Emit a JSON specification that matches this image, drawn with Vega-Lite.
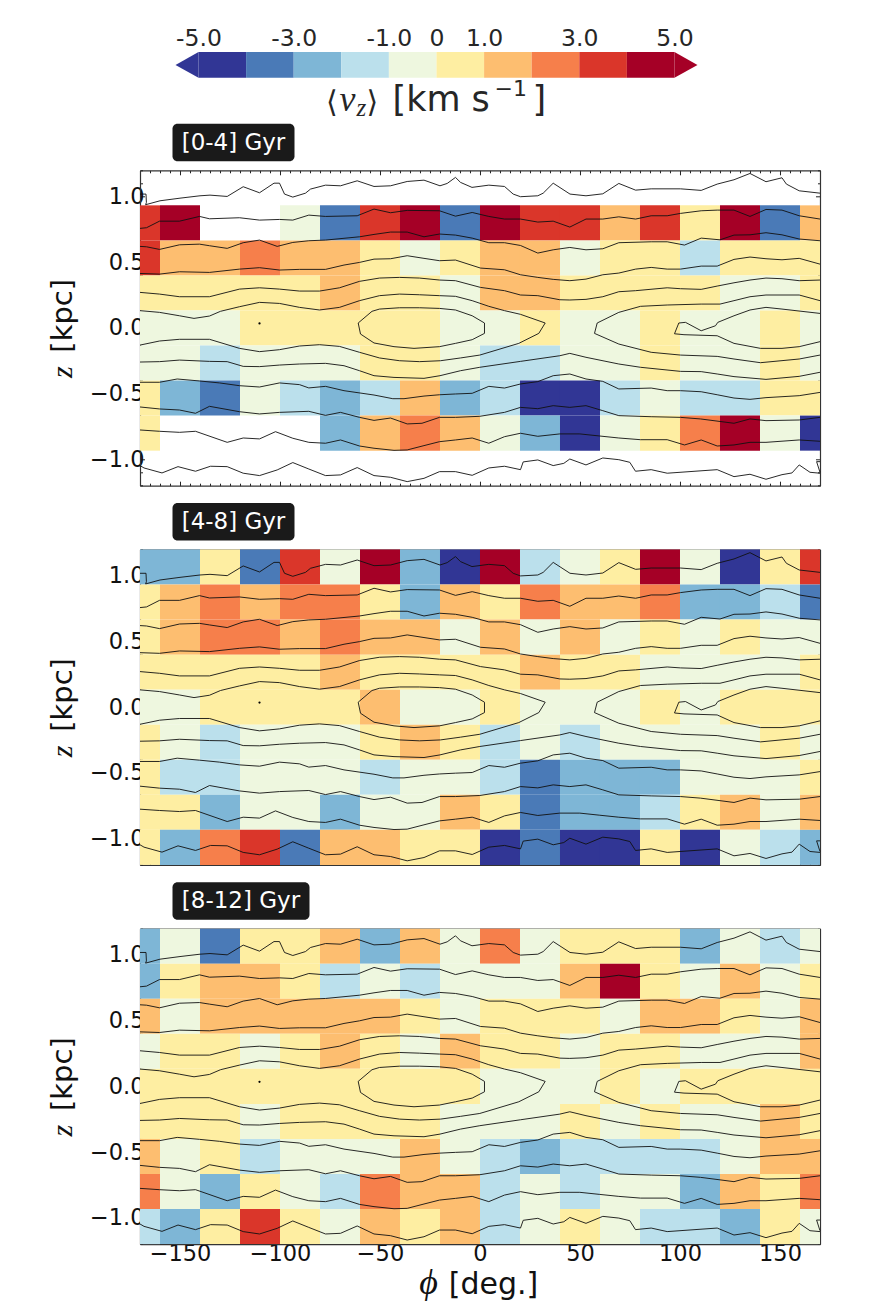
{"$schema":"https://vega.github.io/schema/vega-lite/v6.json","background":"white","padding":{"left":47,"top":26.1,"right":5,"bottom":0},"bounds":"flush","spacing":63.2,
"config":{"font":"DejaVu Sans","view":{"stroke":null},"axis":{"grid":false,"title":null,"labelFont":"DejaVu Sans","labelFontSize":22.5,"labelColor":"#111","domainColor":"#333","domainWidth":1.2,"tickColor":"#222","tickWidth":1,"zindex":1}},
"datasets":{
"bar":[{"lo":-5,"hi":-4,"vz":-4.5},{"lo":-4,"hi":-3,"vz":-3.5},{"lo":-3,"hi":-2,"vz":-2.5},{"lo":-2,"hi":-1,"vz":-1.5},{"lo":-1,"hi":0,"vz":-0.5},{"lo":0,"hi":1,"vz":0.5},{"lo":1,"hi":2,"vz":1.5},{"lo":2,"hi":3,"vz":2.5},{"lo":3,"hi":4,"vz":3.5},{"lo":4,"hi":5,"vz":4.5}],
"p1":[
{"phi":-170,"z":0.8,"vz":3.5},{"phi":-150,"z":0.8,"vz":4.5},{"phi":-90,"z":0.8,"vz":-0.5},{"phi":-70,"z":0.8,"vz":-3.5},{"phi":-50,"z":0.8,"vz":3.5},{"phi":-30,"z":0.8,"vz":4.5},{"phi":-10,"z":0.8,"vz":-3.5},{"phi":10,"z":0.8,"vz":4.5},{"phi":30,"z":0.8,"vz":3.5},{"phi":50,"z":0.8,"vz":3.5},{"phi":70,"z":0.8,"vz":1.5},{"phi":90,"z":0.8,"vz":3.5},{"phi":110,"z":0.8,"vz":0.5},{"phi":130,"z":0.8,"vz":4.5},{"phi":150,"z":0.8,"vz":-3.5},{"phi":170,"z":0.8,"vz":1.5},
{"phi":-170,"z":0.5333,"vz":3.5},{"phi":-150,"z":0.5333,"vz":1.5},{"phi":-130,"z":0.5333,"vz":1.5},{"phi":-110,"z":0.5333,"vz":2.5},{"phi":-90,"z":0.5333,"vz":1.5},{"phi":-70,"z":0.5333,"vz":1.5},{"phi":-50,"z":0.5333,"vz":0.5},{"phi":-30,"z":0.5333,"vz":-0.5},{"phi":-10,"z":0.5333,"vz":0.5},{"phi":10,"z":0.5333,"vz":1.5},{"phi":30,"z":0.5333,"vz":1.5},{"phi":50,"z":0.5333,"vz":-0.5},{"phi":70,"z":0.5333,"vz":0.5},{"phi":90,"z":0.5333,"vz":0.5},{"phi":110,"z":0.5333,"vz":-1.5},{"phi":130,"z":0.5333,"vz":0.5},{"phi":150,"z":0.5333,"vz":0.5},{"phi":170,"z":0.5333,"vz":0.5},
{"phi":-170,"z":0.2667,"vz":0.5},{"phi":-150,"z":0.2667,"vz":0.5},{"phi":-130,"z":0.2667,"vz":0.5},{"phi":-110,"z":0.2667,"vz":0.5},{"phi":-90,"z":0.2667,"vz":0.5},{"phi":-70,"z":0.2667,"vz":1.5},{"phi":-50,"z":0.2667,"vz":0.5},{"phi":-30,"z":0.2667,"vz":0.5},{"phi":-10,"z":0.2667,"vz":-0.5},{"phi":10,"z":0.2667,"vz":1.5},{"phi":30,"z":0.2667,"vz":1.5},{"phi":50,"z":0.2667,"vz":0.5},{"phi":70,"z":0.2667,"vz":0.5},{"phi":90,"z":0.2667,"vz":0.5},{"phi":110,"z":0.2667,"vz":0.5},{"phi":130,"z":0.2667,"vz":-0.5},{"phi":150,"z":0.2667,"vz":-0.5},{"phi":170,"z":0.2667,"vz":0.5},
{"phi":-170,"z":0,"vz":-0.5},{"phi":-150,"z":0,"vz":-0.5},{"phi":-130,"z":0,"vz":-0.5},{"phi":-110,"z":0,"vz":0.5},{"phi":-90,"z":0,"vz":0.5},{"phi":-70,"z":0,"vz":0.5},{"phi":-50,"z":0,"vz":0.5},{"phi":-30,"z":0,"vz":0.5},{"phi":-10,"z":0,"vz":-0.5},{"phi":10,"z":0,"vz":-0.5},{"phi":30,"z":0,"vz":0.5},{"phi":50,"z":0,"vz":-0.5},{"phi":70,"z":0,"vz":-0.5},{"phi":90,"z":0,"vz":0.5},{"phi":110,"z":0,"vz":-0.5},{"phi":130,"z":0,"vz":-0.5},{"phi":150,"z":0,"vz":0.5},{"phi":170,"z":0,"vz":-0.5},
{"phi":-170,"z":-0.2667,"vz":-0.5},{"phi":-150,"z":-0.2667,"vz":-0.5},{"phi":-130,"z":-0.2667,"vz":-1.5},{"phi":-110,"z":-0.2667,"vz":-0.5},{"phi":-90,"z":-0.2667,"vz":-0.5},{"phi":-70,"z":-0.2667,"vz":-0.5},{"phi":-50,"z":-0.2667,"vz":0.5},{"phi":-30,"z":-0.2667,"vz":0.5},{"phi":-10,"z":-0.2667,"vz":-0.5},{"phi":10,"z":-0.2667,"vz":-1.5},{"phi":30,"z":-0.2667,"vz":-1.5},{"phi":50,"z":-0.2667,"vz":-0.5},{"phi":70,"z":-0.2667,"vz":-0.5},{"phi":90,"z":-0.2667,"vz":0.5},{"phi":110,"z":-0.2667,"vz":-0.5},{"phi":130,"z":-0.2667,"vz":-0.5},{"phi":150,"z":-0.2667,"vz":0.5},{"phi":170,"z":-0.2667,"vz":-0.5},
{"phi":-170,"z":-0.5333,"vz":0.5},{"phi":-150,"z":-0.5333,"vz":-2.5},{"phi":-130,"z":-0.5333,"vz":-3.5},{"phi":-110,"z":-0.5333,"vz":-0.5},{"phi":-90,"z":-0.5333,"vz":-1.5},{"phi":-70,"z":-0.5333,"vz":-2.5},{"phi":-50,"z":-0.5333,"vz":-1.5},{"phi":-30,"z":-0.5333,"vz":1.5},{"phi":-10,"z":-0.5333,"vz":-2.5},{"phi":10,"z":-0.5333,"vz":-1.5},{"phi":30,"z":-0.5333,"vz":-4.5},{"phi":50,"z":-0.5333,"vz":-4.5},{"phi":70,"z":-0.5333,"vz":-1.5},{"phi":90,"z":-0.5333,"vz":-0.5},{"phi":110,"z":-0.5333,"vz":-1.5},{"phi":130,"z":-0.5333,"vz":-1.5},{"phi":150,"z":-0.5333,"vz":0.5},{"phi":170,"z":-0.5333,"vz":0.5},
{"phi":-170,"z":-0.8,"vz":0.5},{"phi":-70,"z":-0.8,"vz":-2.5},{"phi":-50,"z":-0.8,"vz":1.5},{"phi":-30,"z":-0.8,"vz":2.5},{"phi":-10,"z":-0.8,"vz":1.5},{"phi":10,"z":-0.8,"vz":-0.5},{"phi":30,"z":-0.8,"vz":-2.5},{"phi":50,"z":-0.8,"vz":-4.5},{"phi":70,"z":-0.8,"vz":-0.5},{"phi":90,"z":-0.8,"vz":0.5},{"phi":110,"z":-0.8,"vz":2.5},{"phi":130,"z":-0.8,"vz":4.5},{"phi":150,"z":-0.8,"vz":-0.5},{"phi":170,"z":-0.8,"vz":-4.5}
],
"p2":[
{"phi":-170,"z":1.0667,"vz":-2.5},{"phi":-150,"z":1.0667,"vz":-2.5},{"phi":-130,"z":1.0667,"vz":0.5},{"phi":-110,"z":1.0667,"vz":-3.5},{"phi":-90,"z":1.0667,"vz":3.5},{"phi":-70,"z":1.0667,"vz":-0.5},{"phi":-50,"z":1.0667,"vz":4.5},{"phi":-30,"z":1.0667,"vz":-2.5},{"phi":-10,"z":1.0667,"vz":-4.5},{"phi":10,"z":1.0667,"vz":4.5},{"phi":30,"z":1.0667,"vz":-1.5},{"phi":50,"z":1.0667,"vz":-0.5},{"phi":70,"z":1.0667,"vz":0.5},{"phi":90,"z":1.0667,"vz":4.5},{"phi":110,"z":1.0667,"vz":-0.5},{"phi":130,"z":1.0667,"vz":-4.5},{"phi":150,"z":1.0667,"vz":0.5},{"phi":170,"z":1.0667,"vz":3.5},
{"phi":-170,"z":0.8,"vz":0.5},{"phi":-150,"z":0.8,"vz":1.5},{"phi":-130,"z":0.8,"vz":2.5},{"phi":-110,"z":0.8,"vz":1.5},{"phi":-90,"z":0.8,"vz":2.5},{"phi":-70,"z":0.8,"vz":2.5},{"phi":-50,"z":0.8,"vz":0.5},{"phi":-30,"z":0.8,"vz":-2.5},{"phi":-10,"z":0.8,"vz":1.5},{"phi":10,"z":0.8,"vz":0.5},{"phi":30,"z":0.8,"vz":2.5},{"phi":50,"z":0.8,"vz":1.5},{"phi":70,"z":0.8,"vz":1.5},{"phi":90,"z":0.8,"vz":2.5},{"phi":110,"z":0.8,"vz":-2.5},{"phi":130,"z":0.8,"vz":-2.5},{"phi":150,"z":0.8,"vz":-1.5},{"phi":170,"z":0.8,"vz":-3.5},
{"phi":-170,"z":0.5333,"vz":0.5},{"phi":-150,"z":0.5333,"vz":1.5},{"phi":-130,"z":0.5333,"vz":2.5},{"phi":-110,"z":0.5333,"vz":2.5},{"phi":-90,"z":0.5333,"vz":1.5},{"phi":-70,"z":0.5333,"vz":2.5},{"phi":-50,"z":0.5333,"vz":1.5},{"phi":-30,"z":0.5333,"vz":1.5},{"phi":-10,"z":0.5333,"vz":-0.5},{"phi":10,"z":0.5333,"vz":1.5},{"phi":30,"z":0.5333,"vz":-0.5},{"phi":50,"z":0.5333,"vz":1.5},{"phi":70,"z":0.5333,"vz":-0.5},{"phi":90,"z":0.5333,"vz":0.5},{"phi":110,"z":0.5333,"vz":-0.5},{"phi":130,"z":0.5333,"vz":0.5},{"phi":150,"z":0.5333,"vz":-0.5},{"phi":170,"z":0.5333,"vz":-0.5},
{"phi":-170,"z":0.2667,"vz":0.5},{"phi":-150,"z":0.2667,"vz":0.5},{"phi":-130,"z":0.2667,"vz":0.5},{"phi":-110,"z":0.2667,"vz":0.5},{"phi":-90,"z":0.2667,"vz":0.5},{"phi":-70,"z":0.2667,"vz":1.5},{"phi":-50,"z":0.2667,"vz":0.5},{"phi":-30,"z":0.2667,"vz":0.5},{"phi":-10,"z":0.2667,"vz":0.5},{"phi":10,"z":0.2667,"vz":0.5},{"phi":30,"z":0.2667,"vz":1.5},{"phi":50,"z":0.2667,"vz":0.5},{"phi":70,"z":0.2667,"vz":0.5},{"phi":90,"z":0.2667,"vz":-0.5},{"phi":110,"z":0.2667,"vz":-0.5},{"phi":130,"z":0.2667,"vz":-0.5},{"phi":150,"z":0.2667,"vz":-0.5},{"phi":170,"z":0.2667,"vz":0.5},
{"phi":-170,"z":0,"vz":-0.5},{"phi":-150,"z":0,"vz":-0.5},{"phi":-130,"z":0,"vz":0.5},{"phi":-110,"z":0,"vz":0.5},{"phi":-90,"z":0,"vz":0.5},{"phi":-70,"z":0,"vz":0.5},{"phi":-50,"z":0,"vz":1.5},{"phi":-30,"z":0,"vz":-0.5},{"phi":-10,"z":0,"vz":-0.5},{"phi":10,"z":0,"vz":0.5},{"phi":30,"z":0,"vz":-0.5},{"phi":50,"z":0,"vz":-0.5},{"phi":70,"z":0,"vz":-0.5},{"phi":90,"z":0,"vz":0.5},{"phi":110,"z":0,"vz":-0.5},{"phi":130,"z":0,"vz":0.5},{"phi":150,"z":0,"vz":0.5},{"phi":170,"z":0,"vz":0.5},
{"phi":-170,"z":-0.2667,"vz":0.5},{"phi":-150,"z":-0.2667,"vz":-0.5},{"phi":-130,"z":-0.2667,"vz":-1.5},{"phi":-110,"z":-0.2667,"vz":-0.5},{"phi":-90,"z":-0.2667,"vz":-0.5},{"phi":-70,"z":-0.2667,"vz":-0.5},{"phi":-50,"z":-0.2667,"vz":0.5},{"phi":-30,"z":-0.2667,"vz":1.5},{"phi":-10,"z":-0.2667,"vz":0.5},{"phi":10,"z":-0.2667,"vz":-1.5},{"phi":30,"z":-0.2667,"vz":-0.5},{"phi":50,"z":-0.2667,"vz":-1.5},{"phi":70,"z":-0.2667,"vz":-0.5},{"phi":90,"z":-0.2667,"vz":-0.5},{"phi":110,"z":-0.2667,"vz":-0.5},{"phi":130,"z":-0.2667,"vz":-0.5},{"phi":150,"z":-0.2667,"vz":0.5},{"phi":170,"z":-0.2667,"vz":-0.5},
{"phi":-170,"z":-0.5333,"vz":0.5},{"phi":-150,"z":-0.5333,"vz":-1.5},{"phi":-130,"z":-0.5333,"vz":-1.5},{"phi":-110,"z":-0.5333,"vz":-0.5},{"phi":-90,"z":-0.5333,"vz":-0.5},{"phi":-70,"z":-0.5333,"vz":-0.5},{"phi":-50,"z":-0.5333,"vz":-1.5},{"phi":-30,"z":-0.5333,"vz":-0.5},{"phi":-10,"z":-0.5333,"vz":-0.5},{"phi":10,"z":-0.5333,"vz":-1.5},{"phi":30,"z":-0.5333,"vz":-3.5},{"phi":50,"z":-0.5333,"vz":-2.5},{"phi":70,"z":-0.5333,"vz":-2.5},{"phi":90,"z":-0.5333,"vz":-2.5},{"phi":110,"z":-0.5333,"vz":-0.5},{"phi":130,"z":-0.5333,"vz":-0.5},{"phi":150,"z":-0.5333,"vz":-0.5},{"phi":170,"z":-0.5333,"vz":0.5},
{"phi":-170,"z":-0.8,"vz":0.5},{"phi":-150,"z":-0.8,"vz":0.5},{"phi":-130,"z":-0.8,"vz":-2.5},{"phi":-110,"z":-0.8,"vz":-0.5},{"phi":-90,"z":-0.8,"vz":-0.5},{"phi":-70,"z":-0.8,"vz":-2.5},{"phi":-50,"z":-0.8,"vz":-0.5},{"phi":-30,"z":-0.8,"vz":-0.5},{"phi":-10,"z":-0.8,"vz":1.5},{"phi":10,"z":-0.8,"vz":0.5},{"phi":30,"z":-0.8,"vz":-3.5},{"phi":50,"z":-0.8,"vz":-2.5},{"phi":70,"z":-0.8,"vz":-2.5},{"phi":90,"z":-0.8,"vz":-1.5},{"phi":110,"z":-0.8,"vz":0.5},{"phi":130,"z":-0.8,"vz":1.5},{"phi":150,"z":-0.8,"vz":-0.5},{"phi":170,"z":-0.8,"vz":1.5},
{"phi":-170,"z":-1.0667,"vz":0.5},{"phi":-150,"z":-1.0667,"vz":-2.5},{"phi":-130,"z":-1.0667,"vz":2.5},{"phi":-110,"z":-1.0667,"vz":3.5},{"phi":-90,"z":-1.0667,"vz":-3.5},{"phi":-70,"z":-1.0667,"vz":1.5},{"phi":-50,"z":-1.0667,"vz":1.5},{"phi":-30,"z":-1.0667,"vz":0.5},{"phi":-10,"z":-1.0667,"vz":0.5},{"phi":10,"z":-1.0667,"vz":-4.5},{"phi":30,"z":-1.0667,"vz":-3.5},{"phi":50,"z":-1.0667,"vz":-4.5},{"phi":70,"z":-1.0667,"vz":-4.5},{"phi":90,"z":-1.0667,"vz":0.5},{"phi":110,"z":-1.0667,"vz":-4.5},{"phi":130,"z":-1.0667,"vz":-0.5},{"phi":150,"z":-1.0667,"vz":-1.5},{"phi":170,"z":-1.0667,"vz":-2.5}
],
"p3":[
{"phi":-170,"z":1.0667,"vz":-2.5},{"phi":-150,"z":1.0667,"vz":-0.5},{"phi":-130,"z":1.0667,"vz":-3.5},{"phi":-110,"z":1.0667,"vz":0.5},{"phi":-90,"z":1.0667,"vz":0.5},{"phi":-70,"z":1.0667,"vz":1.5},{"phi":-50,"z":1.0667,"vz":-2.5},{"phi":-30,"z":1.0667,"vz":1.5},{"phi":-10,"z":1.0667,"vz":-0.5},{"phi":10,"z":1.0667,"vz":2.5},{"phi":30,"z":1.0667,"vz":-0.5},{"phi":50,"z":1.0667,"vz":0.5},{"phi":70,"z":1.0667,"vz":0.5},{"phi":90,"z":1.0667,"vz":0.5},{"phi":110,"z":1.0667,"vz":-2.5},{"phi":130,"z":1.0667,"vz":-0.5},{"phi":150,"z":1.0667,"vz":-1.5},{"phi":170,"z":1.0667,"vz":-0.5},
{"phi":-170,"z":0.8,"vz":-2.5},{"phi":-150,"z":0.8,"vz":0.5},{"phi":-130,"z":0.8,"vz":1.5},{"phi":-110,"z":0.8,"vz":1.5},{"phi":-90,"z":0.8,"vz":0.5},{"phi":-70,"z":0.8,"vz":-1.5},{"phi":-50,"z":0.8,"vz":-0.5},{"phi":-30,"z":0.8,"vz":-1.5},{"phi":-10,"z":0.8,"vz":-0.5},{"phi":10,"z":0.8,"vz":-0.5},{"phi":30,"z":0.8,"vz":-0.5},{"phi":50,"z":0.8,"vz":1.5},{"phi":70,"z":0.8,"vz":4.5},{"phi":90,"z":0.8,"vz":0.5},{"phi":110,"z":0.8,"vz":-0.5},{"phi":130,"z":0.8,"vz":1.5},{"phi":150,"z":0.8,"vz":-0.5},{"phi":170,"z":0.8,"vz":0.5},
{"phi":-170,"z":0.5333,"vz":1.5},{"phi":-150,"z":0.5333,"vz":-0.5},{"phi":-130,"z":0.5333,"vz":1.5},{"phi":-110,"z":0.5333,"vz":1.5},{"phi":-90,"z":0.5333,"vz":1.5},{"phi":-70,"z":0.5333,"vz":1.5},{"phi":-50,"z":0.5333,"vz":1.5},{"phi":-30,"z":0.5333,"vz":0.5},{"phi":-10,"z":0.5333,"vz":-0.5},{"phi":10,"z":0.5333,"vz":0.5},{"phi":30,"z":0.5333,"vz":0.5},{"phi":50,"z":0.5333,"vz":0.5},{"phi":70,"z":0.5333,"vz":-0.5},{"phi":90,"z":0.5333,"vz":1.5},{"phi":110,"z":0.5333,"vz":1.5},{"phi":130,"z":0.5333,"vz":0.5},{"phi":150,"z":0.5333,"vz":-0.5},{"phi":170,"z":0.5333,"vz":1.5},
{"phi":-170,"z":0.2667,"vz":-0.5},{"phi":-150,"z":0.2667,"vz":0.5},{"phi":-130,"z":0.2667,"vz":0.5},{"phi":-110,"z":0.2667,"vz":-0.5},{"phi":-90,"z":0.2667,"vz":0.5},{"phi":-70,"z":0.2667,"vz":1.5},{"phi":-50,"z":0.2667,"vz":0.5},{"phi":-30,"z":0.2667,"vz":-0.5},{"phi":-10,"z":0.2667,"vz":1.5},{"phi":10,"z":0.2667,"vz":0.5},{"phi":30,"z":0.2667,"vz":0.5},{"phi":50,"z":0.2667,"vz":-0.5},{"phi":70,"z":0.2667,"vz":0.5},{"phi":90,"z":0.2667,"vz":0.5},{"phi":110,"z":0.2667,"vz":-0.5},{"phi":130,"z":0.2667,"vz":-0.5},{"phi":150,"z":0.2667,"vz":-0.5},{"phi":170,"z":0.2667,"vz":1.5},
{"phi":-170,"z":0,"vz":0.5},{"phi":-150,"z":0,"vz":0.5},{"phi":-130,"z":0,"vz":0.5},{"phi":-110,"z":0,"vz":0.5},{"phi":-90,"z":0,"vz":0.5},{"phi":-70,"z":0,"vz":0.5},{"phi":-50,"z":0,"vz":0.5},{"phi":-30,"z":0,"vz":0.5},{"phi":-10,"z":0,"vz":0.5},{"phi":10,"z":0,"vz":-0.5},{"phi":30,"z":0,"vz":-0.5},{"phi":50,"z":0,"vz":-0.5},{"phi":70,"z":0,"vz":0.5},{"phi":90,"z":0,"vz":-0.5},{"phi":110,"z":0,"vz":0.5},{"phi":130,"z":0,"vz":0.5},{"phi":150,"z":0,"vz":0.5},{"phi":170,"z":0,"vz":0.5},
{"phi":-170,"z":-0.2667,"vz":0.5},{"phi":-150,"z":-0.2667,"vz":0.5},{"phi":-130,"z":-0.2667,"vz":0.5},{"phi":-110,"z":-0.2667,"vz":-0.5},{"phi":-90,"z":-0.2667,"vz":0.5},{"phi":-70,"z":-0.2667,"vz":0.5},{"phi":-50,"z":-0.2667,"vz":0.5},{"phi":-30,"z":-0.2667,"vz":0.5},{"phi":-10,"z":-0.2667,"vz":-0.5},{"phi":10,"z":-0.2667,"vz":-0.5},{"phi":30,"z":-0.2667,"vz":-0.5},{"phi":50,"z":-0.2667,"vz":0.5},{"phi":70,"z":-0.2667,"vz":-0.5},{"phi":90,"z":-0.2667,"vz":0.5},{"phi":110,"z":-0.2667,"vz":-0.5},{"phi":130,"z":-0.2667,"vz":-0.5},{"phi":150,"z":-0.2667,"vz":1.5},{"phi":170,"z":-0.2667,"vz":0.5},
{"phi":-170,"z":-0.5333,"vz":1.5},{"phi":-150,"z":-0.5333,"vz":-0.5},{"phi":-130,"z":-0.5333,"vz":0.5},{"phi":-110,"z":-0.5333,"vz":-1.5},{"phi":-90,"z":-0.5333,"vz":-0.5},{"phi":-70,"z":-0.5333,"vz":-0.5},{"phi":-50,"z":-0.5333,"vz":-0.5},{"phi":-30,"z":-0.5333,"vz":1.5},{"phi":-10,"z":-0.5333,"vz":-0.5},{"phi":10,"z":-0.5333,"vz":-1.5},{"phi":30,"z":-0.5333,"vz":-2.5},{"phi":50,"z":-0.5333,"vz":-1.5},{"phi":70,"z":-0.5333,"vz":-1.5},{"phi":90,"z":-0.5333,"vz":-1.5},{"phi":110,"z":-0.5333,"vz":-1.5},{"phi":130,"z":-0.5333,"vz":-0.5},{"phi":150,"z":-0.5333,"vz":1.5},{"phi":170,"z":-0.5333,"vz":1.5},
{"phi":-170,"z":-0.8,"vz":2.5},{"phi":-150,"z":-0.8,"vz":-0.5},{"phi":-130,"z":-0.8,"vz":-2.5},{"phi":-110,"z":-0.8,"vz":0.5},{"phi":-90,"z":-0.8,"vz":-0.5},{"phi":-70,"z":-0.8,"vz":-1.5},{"phi":-50,"z":-0.8,"vz":2.5},{"phi":-30,"z":-0.8,"vz":1.5},{"phi":-10,"z":-0.8,"vz":1.5},{"phi":10,"z":-0.8,"vz":-1.5},{"phi":30,"z":-0.8,"vz":-0.5},{"phi":50,"z":-0.8,"vz":-1.5},{"phi":70,"z":-0.8,"vz":-0.5},{"phi":90,"z":-0.8,"vz":-0.5},{"phi":110,"z":-0.8,"vz":-2.5},{"phi":130,"z":-0.8,"vz":1.5},{"phi":150,"z":-0.8,"vz":0.5},{"phi":170,"z":-0.8,"vz":2.5},
{"phi":-170,"z":-1.0667,"vz":-1.5},{"phi":-150,"z":-1.0667,"vz":-2.5},{"phi":-130,"z":-1.0667,"vz":0.5},{"phi":-110,"z":-1.0667,"vz":3.5},{"phi":-90,"z":-1.0667,"vz":0.5},{"phi":-70,"z":-1.0667,"vz":-0.5},{"phi":-50,"z":-1.0667,"vz":1.5},{"phi":-30,"z":-1.0667,"vz":0.5},{"phi":-10,"z":-1.0667,"vz":1.5},{"phi":10,"z":-1.0667,"vz":-1.5},{"phi":30,"z":-1.0667,"vz":-0.5},{"phi":50,"z":-1.0667,"vz":0.5},{"phi":70,"z":-1.0667,"vz":-0.5},{"phi":90,"z":-1.0667,"vz":-1.5},{"phi":110,"z":-1.0667,"vz":-1.5},{"phi":130,"z":-1.0667,"vz":-2.5},{"phi":150,"z":-1.0667,"vz":0.5},{"phi":170,"z":-1.0667,"vz":-0.5}
],
"contours":[
{"c":"a","phi":-170,"z":1.019},{"c":"a","phi":-167,"z":1.019},{"c":"a","phi":-166.8,"z":0.955},{"c":"a","phi":-167.2,"z":0.938},{"c":"a","phi":-160,"z":0.968},{"c":"a","phi":-150,"z":0.988},{"c":"a","phi":-140,"z":1.006},{"c":"a","phi":-135,"z":1.011},{"c":"a","phi":-126.4,"z":1.001},{"c":"a","phi":-118.4,"z":1.075},{"c":"a","phi":-110.25,"z":1.029},{"c":"a","phi":-103,"z":1.102},{"c":"a","phi":-100.25,"z":1.102},{"c":"a","phi":-97.75,"z":1.019},{"c":"a","phi":-93.6,"z":0.996},{"c":"a","phi":-87.25,"z":1.026},{"c":"a","phi":-84.75,"z":1.057},{"c":"a","phi":-77.25,"z":1.087},{"c":"a","phi":-69.75,"z":1.082},{"c":"a","phi":-61.4,"z":1.12},{"c":"a","phi":-53,"z":1.077},{"c":"a","phi":-44.75,"z":1.082},{"c":"a","phi":-36.4,"z":1.115},{"c":"a","phi":-28,"z":1.125},{"c":"a","phi":-20,"z":1.082},{"c":"a","phi":-16.4,"z":1.1},{"c":"a","phi":-12.25,"z":1.146},{"c":"a","phi":-9.75,"z":1.108},{"c":"a","phi":-4,"z":1.07},{"c":"a","phi":4.4,"z":1.087},{"c":"a","phi":12.25,"z":1.077},{"c":"a","phi":16.6,"z":1.019},{"c":"a","phi":20.25,"z":0.999},{"c":"a","phi":28.9,"z":1.006},{"c":"a","phi":31.6,"z":1.026},{"c":"a","phi":36.6,"z":1.102},{"c":"a","phi":45,"z":1.019},{"c":"a","phi":53,"z":1.006},{"c":"a","phi":61.4,"z":1.021},{"c":"a","phi":69.4,"z":1.1},{"c":"a","phi":77.8,"z":1.049},{"c":"a","phi":85.6,"z":1.059},{"c":"a","phi":100.25,"z":1.059},{"c":"a","phi":110.6,"z":1.047},{"c":"a","phi":118.6,"z":1.095},{"c":"a","phi":127,"z":1.128},{"c":"a","phi":135,"z":1.176},{"c":"a","phi":143,"z":1.113},{"c":"a","phi":151,"z":1.143},{"c":"a","phi":153.2,"z":1.095},{"c":"a","phi":159.6,"z":1.044},{"c":"a","phi":170,"z":1.026},
{"c":"b","phi":-170,"z":0.758},{"c":"b","phi":-166.75,"z":0.763},{"c":"b","phi":-160.25,"z":0.813},{"c":"b","phi":-150.25,"z":0.813},{"c":"b","phi":-140.25,"z":0.849},{"c":"b","phi":-135.25,"z":0.831},{"c":"b","phi":-120.25,"z":0.839},{"c":"b","phi":-110.25,"z":0.821},{"c":"b","phi":-100.25,"z":0.826},{"c":"b","phi":-93.6,"z":0.821},{"c":"b","phi":-85.6,"z":0.859},{"c":"b","phi":-77.25,"z":0.849},{"c":"b","phi":-61.4,"z":0.854},{"c":"b","phi":-53,"z":0.905},{"c":"b","phi":-44.75,"z":0.877},{"c":"b","phi":-36.4,"z":0.895},{"c":"b","phi":-20.25,"z":0.892},{"c":"b","phi":-12.25,"z":0.851},{"c":"b","phi":-3.9,"z":0.879},{"c":"b","phi":4.4,"z":0.849},{"c":"b","phi":12.25,"z":0.829},{"c":"b","phi":20.25,"z":0.829},{"c":"b","phi":28.9,"z":0.806},{"c":"b","phi":36.6,"z":0.813},{"c":"b","phi":44.9,"z":0.768},{"c":"b","phi":53,"z":0.829},{"c":"b","phi":61.4,"z":0.829},{"c":"b","phi":69.4,"z":0.846},{"c":"b","phi":77.8,"z":0.829},{"c":"b","phi":85.6,"z":0.854},{"c":"b","phi":93.6,"z":0.854},{"c":"b","phi":100.25,"z":0.872},{"c":"b","phi":110.6,"z":0.892},{"c":"b","phi":118.6,"z":0.897},{"c":"b","phi":127,"z":0.897},{"c":"b","phi":135,"z":0.849},{"c":"b","phi":143,"z":0.902},{"c":"b","phi":151,"z":0.897},{"c":"b","phi":159.6,"z":0.854},{"c":"b","phi":170,"z":0.829},
{"c":"d0","phi":-170,"z":0.621},{"c":"d0","phi":-166.75,"z":0.618},{"c":"d0","phi":-160.25,"z":0.598},{"c":"d0","phi":-150.25,"z":0.633},{"c":"d0","phi":-140.25,"z":0.638},{"c":"d0","phi":-135.25,"z":0.626},{"c":"d0","phi":-126.4,"z":0.606},{"c":"d0","phi":-118.4,"z":0.649},{"c":"d0","phi":-110.25,"z":0.669},{"c":"d0","phi":-101.4,"z":0.621},{"c":"d0","phi":-93.6,"z":0.651},{"c":"d0","phi":-85.6,"z":0.664},{"c":"d0","phi":-77.25,"z":0.669},{"c":"d0","phi":-60.25,"z":0.694},{"c":"d0","phi":-53,"z":0.712},{"c":"d0","phi":-44.75,"z":0.73},{"c":"d0","phi":-36.4,"z":0.73},{"c":"d0","phi":-28,"z":0.694},{"c":"d0","phi":-20.25,"z":0.715},{"c":"d0","phi":-12.25,"z":0.707},{"c":"d0","phi":-3.9,"z":0.684},{"c":"d0","phi":4.4,"z":0.649},{"c":"d0","phi":12.25,"z":0.649},{"c":"d0","phi":20.25,"z":0.628},{"c":"d0","phi":28.9,"z":0.57},{"c":"d0","phi":36.6,"z":0.595},{"c":"d0","phi":44.9,"z":0.613},{"c":"d0","phi":53,"z":0.595},{"c":"d0","phi":61.4,"z":0.603},{"c":"d0","phi":69.4,"z":0.649},{"c":"d0","phi":85.6,"z":0.656},{"c":"d0","phi":93.6,"z":0.656},{"c":"d0","phi":102.25,"z":0.631},{"c":"d0","phi":110.6,"z":0.684},{"c":"d0","phi":120,"z":0.671},{"c":"d0","phi":127,"z":0.707},{"c":"d0","phi":135,"z":0.709},{"c":"d0","phi":143,"z":0.725},{"c":"d0","phi":151,"z":0.709},{"c":"d0","phi":159.6,"z":0.677},{"c":"d0","phi":170,"z":0.664},
{"c":"d","phi":-170,"z":0.415},{"c":"d","phi":-160.25,"z":0.41},{"c":"d","phi":-150.25,"z":0.428},{"c":"d","phi":-135.25,"z":0.423},{"c":"d","phi":-120.25,"z":0.448},{"c":"d","phi":-110.25,"z":0.459},{"c":"d","phi":-100.25,"z":0.441},{"c":"d","phi":-90.25,"z":0.446},{"c":"d","phi":-77.25,"z":0.446},{"c":"d","phi":-68,"z":0.479},{"c":"d","phi":-60.25,"z":0.499},{"c":"d","phi":-53,"z":0.524},{"c":"d","phi":-44.75,"z":0.527},{"c":"d","phi":-36.4,"z":0.55},{"c":"d","phi":-28,"z":0.53},{"c":"d","phi":-20.25,"z":0.512},{"c":"d","phi":-12.25,"z":0.517},{"c":"d","phi":0.25,"z":0.456},{"c":"d","phi":12.25,"z":0.443},{"c":"d","phi":20.25,"z":0.405},{"c":"d","phi":28.9,"z":0.385},{"c":"d","phi":36.6,"z":0.37},{"c":"d","phi":44.9,"z":0.36},{"c":"d","phi":53,"z":0.372},{"c":"d","phi":61.4,"z":0.405},{"c":"d","phi":69.4,"z":0.418},{"c":"d","phi":77.8,"z":0.448},{"c":"d","phi":85.6,"z":0.461},{"c":"d","phi":93.6,"z":0.448},{"c":"d","phi":100.25,"z":0.448},{"c":"d","phi":110.6,"z":0.471},{"c":"d","phi":118.6,"z":0.471},{"c":"d","phi":127,"z":0.522},{"c":"d","phi":135,"z":0.54},{"c":"d","phi":143,"z":0.527},{"c":"d","phi":151,"z":0.519},{"c":"d","phi":159.6,"z":0.53},{"c":"d","phi":170,"z":0.486},
{"c":"e","phi":-170,"z":0.271},{"c":"e","phi":-160.25,"z":0.258},{"c":"e","phi":-150.25,"z":0.238},{"c":"e","phi":-135.25,"z":0.238},{"c":"e","phi":-120.25,"z":0.296},{"c":"e","phi":-110.25,"z":0.306},{"c":"e","phi":-100.25,"z":0.296},{"c":"e","phi":-90.25,"z":0.281},{"c":"e","phi":-80.25,"z":0.281},{"c":"e","phi":-70.25,"z":0.306},{"c":"e","phi":-60.25,"z":0.355},{"c":"e","phi":-50.25,"z":0.38},{"c":"e","phi":-40.25,"z":0.385},{"c":"e","phi":-30.25,"z":0.38},{"c":"e","phi":-20.25,"z":0.365},{"c":"e","phi":-12.25,"z":0.36},{"c":"e","phi":0.25,"z":0.309},{"c":"e","phi":12.25,"z":0.284},{"c":"e","phi":20.25,"z":0.251},{"c":"e","phi":28.9,"z":0.246},{"c":"e","phi":39.9,"z":0.215},{"c":"e","phi":44.9,"z":0.213},{"c":"e","phi":53,"z":0.218},{"c":"e","phi":61.4,"z":0.238},{"c":"e","phi":69.4,"z":0.276},{"c":"e","phi":77.8,"z":0.284},{"c":"e","phi":93.6,"z":0.306},{"c":"e","phi":100.25,"z":0.299},{"c":"e","phi":110.6,"z":0.294},{"c":"e","phi":118.6,"z":0.319},{"c":"e","phi":127,"z":0.344},{"c":"e","phi":135,"z":0.365},{"c":"e","phi":143,"z":0.38},{"c":"e","phi":151,"z":0.375},{"c":"e","phi":159.6,"z":0.36},{"c":"e","phi":170,"z":0.365},
{"c":"f","phi":-170,"z":0.132},{"c":"f","phi":-160.25,"z":0.119},{"c":"f","phi":-150.25,"z":0.093},{"c":"f","phi":-143,"z":0.073},{"c":"f","phi":-135.25,"z":0.091},{"c":"f","phi":-129.75,"z":0.127},{"c":"f","phi":-120.25,"z":0.162},{"c":"f","phi":-110.25,"z":0.195},{"c":"f","phi":-100.25,"z":0.187},{"c":"f","phi":-90.25,"z":0.157},{"c":"f","phi":-80.25,"z":0.137},{"c":"f","phi":-70.25,"z":0.157},{"c":"f","phi":-60.25,"z":0.208},{"c":"f","phi":-50.25,"z":0.246},{"c":"f","phi":-40.25,"z":0.258},{"c":"f","phi":-30.25,"z":0.253},{"c":"f","phi":-20.25,"z":0.246},{"c":"f","phi":-12.25,"z":0.241},{"c":"f","phi":-3.9,"z":0.208},{"c":"f","phi":4.4,"z":0.165},{"c":"f","phi":12.25,"z":0.132},{"c":"f","phi":20.25,"z":0.104},{"c":"f","phi":32.6,"z":0.038},{"c":"f","phi":29.4,"z":-0.041},{"c":"f","phi":19.4,"z":-0.117},{"c":"f","phi":-0.1,"z":-0.206},{"c":"f","phi":-9.75,"z":-0.228},{"c":"f","phi":-19.75,"z":-0.249},{"c":"f","phi":-30.25,"z":-0.256},{"c":"f","phi":-40.25,"z":-0.249},{"c":"f","phi":-50.25,"z":-0.228},{"c":"f","phi":-60.25,"z":-0.185},{"c":"f","phi":-70.25,"z":-0.14},{"c":"f","phi":-80.25,"z":-0.127},{"c":"f","phi":-90.25,"z":-0.137},{"c":"f","phi":-100.25,"z":-0.165},{"c":"f","phi":-110.25,"z":-0.18},{"c":"f","phi":-120.25,"z":-0.155},{"c":"f","phi":-135.25,"z":-0.086},{"c":"f","phi":-150.25,"z":-0.086},{"c":"f","phi":-160.25,"z":-0.099},{"c":"f","phi":-170,"z":-0.13},
{"c":"g","phi":-60.9,"z":0.038},{"c":"g","phi":-59.75,"z":-0.046},{"c":"g","phi":-53,"z":-0.114},{"c":"g","phi":-43,"z":-0.142},{"c":"g","phi":-33,"z":-0.155},{"c":"g","phi":-20.25,"z":-0.142},{"c":"g","phi":-12.25,"z":-0.117},{"c":"g","phi":-3.9,"z":-0.089},{"c":"g","phi":2.25,"z":-0.041},{"c":"g","phi":2.25,"z":0.038},{"c":"g","phi":-3.9,"z":0.093},{"c":"g","phi":-12.25,"z":0.137},{"c":"g","phi":-20.25,"z":0.149},{"c":"g","phi":-30.25,"z":0.154},{"c":"g","phi":-40.25,"z":0.154},{"c":"g","phi":-50.25,"z":0.144},{"c":"g","phi":-54,"z":0.127},{"c":"g","phi":-60.9,"z":0.038},
{"c":"h","phi":170,"z":0.111},{"c":"h","phi":151,"z":0.144},{"c":"h","phi":143,"z":0.157},{"c":"h","phi":135,"z":0.137},{"c":"h","phi":127,"z":0.093},{"c":"h","phi":118.9,"z":0.043},{"c":"h","phi":117.75,"z":0.017},{"c":"h","phi":110.6,"z":-0.021},{"c":"h","phi":102.75,"z":0.043},{"c":"h","phi":99.4,"z":0.038},{"c":"h","phi":97.25,"z":-0.044},{"c":"h","phi":102,"z":-0.051},{"c":"h","phi":118.6,"z":-0.059},{"c":"h","phi":127,"z":-0.117},{"c":"h","phi":140.25,"z":-0.155},{"c":"h","phi":151,"z":-0.155},{"c":"h","phi":159.6,"z":-0.142},{"c":"h","phi":170,"z":-0.104},
{"c":"i","phi":170,"z":0.208},{"c":"i","phi":159.6,"z":0.251},{"c":"i","phi":143,"z":0.251},{"c":"i","phi":135,"z":0.238},{"c":"i","phi":127,"z":0.208},{"c":"i","phi":120,"z":0.182},{"c":"i","phi":110.6,"z":0.182},{"c":"i","phi":93.6,"z":0.175},{"c":"i","phi":80.25,"z":0.165},{"c":"i","phi":69.4,"z":0.119},{"c":"i","phi":58.6,"z":0.038},{"c":"i","phi":57.25,"z":-0.041},{"c":"i","phi":69.4,"z":-0.122},{"c":"i","phi":85.6,"z":-0.185},{"c":"i","phi":100.25,"z":-0.206},{"c":"i","phi":118.6,"z":-0.216},{"c":"i","phi":127,"z":-0.236},{"c":"i","phi":140.25,"z":-0.264},{"c":"i","phi":159.6,"z":-0.236},{"c":"i","phi":170,"z":-0.206},
{"c":"j","phi":-170,"z":-0.259},{"c":"j","phi":-160.25,"z":-0.256},{"c":"j","phi":-150.25,"z":-0.244},{"c":"j","phi":-135.25,"z":-0.254},{"c":"j","phi":-126.4,"z":-0.256},{"c":"j","phi":-118.4,"z":-0.292},{"c":"j","phi":-110.25,"z":-0.294},{"c":"j","phi":-100.25,"z":-0.282},{"c":"j","phi":-90.25,"z":-0.274},{"c":"j","phi":-77.25,"z":-0.269},{"c":"j","phi":-68,"z":-0.287},{"c":"j","phi":-60.25,"z":-0.325},{"c":"j","phi":-53,"z":-0.363},{"c":"j","phi":-43,"z":-0.376},{"c":"j","phi":-28,"z":-0.383},{"c":"j","phi":-20,"z":-0.363},{"c":"j","phi":-9.75,"z":-0.325},{"c":"j","phi":-0.1,"z":-0.299},{"c":"j","phi":20.25,"z":-0.254},{"c":"j","phi":39.9,"z":-0.211},{"c":"j","phi":44.9,"z":-0.193},{"c":"j","phi":53,"z":-0.223},{"c":"j","phi":69.4,"z":-0.274},{"c":"j","phi":80.25,"z":-0.299},{"c":"j","phi":100.25,"z":-0.33},{"c":"j","phi":110.6,"z":-0.332},{"c":"j","phi":118.6,"z":-0.35},{"c":"j","phi":127,"z":-0.37},{"c":"j","phi":143,"z":-0.391},{"c":"j","phi":159.6,"z":-0.368},{"c":"j","phi":170,"z":-0.337},
{"c":"k","phi":-170,"z":-0.413},{"c":"k","phi":-160.25,"z":-0.413},{"c":"k","phi":-151.4,"z":-0.388},{"c":"k","phi":-140.25,"z":-0.403},{"c":"k","phi":-130.25,"z":-0.418},{"c":"k","phi":-120.25,"z":-0.439},{"c":"k","phi":-110.25,"z":-0.449},{"c":"k","phi":-100.25,"z":-0.418},{"c":"k","phi":-90.25,"z":-0.431},{"c":"k","phi":-85.6,"z":-0.456},{"c":"k","phi":-77.25,"z":-0.444},{"c":"k","phi":-68,"z":-0.477},{"c":"k","phi":-53,"z":-0.51},{"c":"k","phi":-43.6,"z":-0.538},{"c":"k","phi":-38,"z":-0.538},{"c":"k","phi":-28,"z":-0.518},{"c":"k","phi":-20.25,"z":-0.508},{"c":"k","phi":-12.25,"z":-0.502},{"c":"k","phi":-3.9,"z":-0.497},{"c":"k","phi":4.4,"z":-0.444},{"c":"k","phi":12.25,"z":-0.457},{"c":"k","phi":20.25,"z":-0.426},{"c":"k","phi":28.9,"z":-0.408},{"c":"k","phi":36.6,"z":-0.363},{"c":"k","phi":44.9,"z":-0.35},{"c":"k","phi":53,"z":-0.388},{"c":"k","phi":61.4,"z":-0.406},{"c":"k","phi":69.4,"z":-0.464},{"c":"k","phi":85.6,"z":-0.457},{"c":"k","phi":93.6,"z":-0.477},{"c":"k","phi":100.25,"z":-0.477},{"c":"k","phi":110.6,"z":-0.485},{"c":"k","phi":118.6,"z":-0.508},{"c":"k","phi":127,"z":-0.533},{"c":"k","phi":135,"z":-0.543},{"c":"k","phi":143,"z":-0.53},{"c":"k","phi":159.6,"z":-0.515},{"c":"k","phi":170,"z":-0.49},
{"c":"l","phi":-170,"z":-0.601},{"c":"l","phi":-160.25,"z":-0.616},{"c":"l","phi":-150.25,"z":-0.624},{"c":"l","phi":-142.25,"z":-0.649},{"c":"l","phi":-135.25,"z":-0.596},{"c":"l","phi":-120.25,"z":-0.637},{"c":"l","phi":-110.25,"z":-0.654},{"c":"l","phi":-100.25,"z":-0.642},{"c":"l","phi":-85.6,"z":-0.634},{"c":"l","phi":-77.25,"z":-0.665},{"c":"l","phi":-69.75,"z":-0.642},{"c":"l","phi":-60.25,"z":-0.68},{"c":"l","phi":-53,"z":-0.703},{"c":"l","phi":-44.75,"z":-0.685},{"c":"l","phi":-36.4,"z":-0.73},{"c":"l","phi":-29,"z":-0.725},{"c":"l","phi":-20.25,"z":-0.68},{"c":"l","phi":-12.25,"z":-0.68},{"c":"l","phi":-0.1,"z":-0.672},{"c":"l","phi":12.25,"z":-0.642},{"c":"l","phi":20.25,"z":-0.604},{"c":"l","phi":28.9,"z":-0.614},{"c":"l","phi":36.6,"z":-0.591},{"c":"l","phi":44.9,"z":-0.604},{"c":"l","phi":53,"z":-0.591},{"c":"l","phi":61.4,"z":-0.629},{"c":"l","phi":69.4,"z":-0.667},{"c":"l","phi":85.6,"z":-0.675},{"c":"l","phi":100.25,"z":-0.68},{"c":"l","phi":110.25,"z":-0.692},{"c":"l","phi":127,"z":-0.725},{"c":"l","phi":135,"z":-0.692},{"c":"l","phi":143,"z":-0.705},{"c":"l","phi":159.6,"z":-0.7},{"c":"l","phi":170,"z":-0.68},
{"c":"m","phi":-170,"z":-0.776},{"c":"m","phi":-160.25,"z":-0.786},{"c":"m","phi":-150.25,"z":-0.794},{"c":"m","phi":-142.25,"z":-0.786},{"c":"m","phi":-126.4,"z":-0.87},{"c":"m","phi":-118.4,"z":-0.837},{"c":"m","phi":-110.25,"z":-0.844},{"c":"m","phi":-102.25,"z":-0.789},{"c":"m","phi":-93.6,"z":-0.839},{"c":"m","phi":-85.6,"z":-0.87},{"c":"m","phi":-77.25,"z":-0.877},{"c":"m","phi":-69.75,"z":-0.852},{"c":"m","phi":-60.25,"z":-0.898},{"c":"m","phi":-53,"z":-0.915},{"c":"m","phi":-43,"z":-0.931},{"c":"m","phi":-36.4,"z":-0.928},{"c":"m","phi":-28,"z":-0.895},{"c":"m","phi":-20.25,"z":-0.865},{"c":"m","phi":-12.25,"z":-0.852},{"c":"m","phi":-3.9,"z":-0.837},{"c":"m","phi":4.4,"z":-0.877},{"c":"m","phi":12.25,"z":-0.827},{"c":"m","phi":20.25,"z":-0.801},{"c":"m","phi":28.9,"z":-0.824},{"c":"m","phi":39.9,"z":-0.806},{"c":"m","phi":49.9,"z":-0.806},{"c":"m","phi":59.9,"z":-0.822},{"c":"m","phi":69.4,"z":-0.837},{"c":"m","phi":80.25,"z":-0.85},{"c":"m","phi":93.6,"z":-0.85},{"c":"m","phi":102.25,"z":-0.89},{"c":"m","phi":110.6,"z":-0.852},{"c":"m","phi":118.6,"z":-0.898},{"c":"m","phi":127,"z":-0.89},{"c":"m","phi":135,"z":-0.87},{"c":"m","phi":143,"z":-0.87},{"c":"m","phi":159.6,"z":-0.852},{"c":"m","phi":170,"z":-0.862},
{"c":"n","phi":-170,"z":-1.047},{"c":"n","phi":-168,"z":-1.065},{"c":"n","phi":-159,"z":-1.103},{"c":"n","phi":-151,"z":-1.055},{"c":"n","phi":-142.25,"z":-1.09},{"c":"n","phi":-134.75,"z":-1.052},{"c":"n","phi":-126.4,"z":-1.055},{"c":"n","phi":-118.4,"z":-1.105},{"c":"n","phi":-110.25,"z":-1.123},{"c":"n","phi":-101.4,"z":-1.08},{"c":"n","phi":-93.6,"z":-1.024},{"c":"n","phi":-85.6,"z":-1.073},{"c":"n","phi":-77.25,"z":-1.123},{"c":"n","phi":-69.75,"z":-1.118},{"c":"n","phi":-61.4,"z":-1.062},{"c":"n","phi":-53,"z":-1.123},{"c":"n","phi":-44.75,"z":-1.136},{"c":"n","phi":-36.4,"z":-1.169},{"c":"n","phi":-28,"z":-1.144},{"c":"n","phi":-20.25,"z":-1.093},{"c":"n","phi":-12.25,"z":-1.093},{"c":"n","phi":-3.9,"z":-1.121},{"c":"n","phi":4.4,"z":-1.065},{"c":"n","phi":12.25,"z":-1.052},{"c":"n","phi":20.25,"z":-1.078},{"c":"n","phi":21.6,"z":-1.019},{"c":"n","phi":28.9,"z":-1.004},{"c":"n","phi":36.6,"z":-1.047},{"c":"n","phi":41.9,"z":-1.03},{"c":"n","phi":44.9,"z":-0.997},{"c":"n","phi":53,"z":-1.042},{"c":"n","phi":61.4,"z":-0.989},{"c":"n","phi":69.4,"z":-1.002},{"c":"n","phi":74.9,"z":-1.022},{"c":"n","phi":77.75,"z":-1.09},{"c":"n","phi":85.6,"z":-1.078},{"c":"n","phi":93.6,"z":-1.105},{"c":"n","phi":118.6,"z":-1.078},{"c":"n","phi":127,"z":-1.131},{"c":"n","phi":135,"z":-1.113},{"c":"n","phi":143,"z":-1.151},{"c":"n","phi":151,"z":-1.116},{"c":"n","phi":156,"z":-1.103},{"c":"n","phi":159.6,"z":-1.042},{"c":"n","phi":165,"z":-1.098},{"c":"n","phi":170,"z":-1.105},
{"c":"o","phi":170,"z":-1.017},{"c":"o","phi":168.3,"z":-1.017},{"c":"o","phi":170,"z":-1.098}
]},
"vconcat":[
{"width":680,"height":54.1,"resolve":{"axis":{"x":"independent","y":"independent"}},"layer":[
{"data":{"name":"bar"},"mark":{"type":"rect"},"encoding":{"x":{"field":"lo","type":"quantitative","scale":{"domain":[-6.229,8.057],"nice":false,"zero":false},"axis":{"orient":"top","values":[-5,-3,-1,0,1,3,5],"labelExpr":"datum.value==0?'0':datum.value<0?'-'+format(-datum.value,'.1f'):format(datum.value,'.1f')","ticks":false,"domain":false,"labelFont":"DejaVu Sans","labelFontSize":23.5,"labelColor":"#262626","labelPadding":1.5,"labelOverlap":false,"labelFlush":false}},"x2":{"field":"hi"},"y":{"datum":0,"type":"quantitative","scale":{"domain":[0,54.1],"reverse":true,"nice":false},"axis":null},"y2":{"datum":25.7},"color":{"field":"vz","type":"quantitative","legend":null,"scale":{"type":"threshold","domain":[-4,-3,-2,-1,0,1,2,3,4],"range":["#313695","#4a7ab7","#7eb6d6","#bbe0ec","#eef7df","#feeea2","#fdbe70","#f67f4b","#da362a","#a50026"]}}}},
{"data":{"values":[{"v":-5.483,"a":12.85,"b":12.85},{"v":-5,"a":0,"b":25.7}]},"mark":{"type":"area","color":"#313695"},"encoding":{"x":{"field":"v","type":"quantitative","scale":{"domain":[-6.229,8.057],"nice":false,"zero":false},"axis":null},"y":{"field":"a","type":"quantitative","scale":{"domain":[0,54.1],"reverse":true,"nice":false},"axis":null},"y2":{"field":"b"}}},
{"data":{"values":[{"v":5,"a":0,"b":25.7},{"v":5.483,"a":12.85,"b":12.85}]},"mark":{"type":"area","color":"#a50026"},"encoding":{"x":{"field":"v","type":"quantitative","scale":{"domain":[-6.229,8.057],"nice":false,"zero":false},"axis":null},"y":{"field":"a","type":"quantitative","scale":{"domain":[0,54.1],"reverse":true,"nice":false},"axis":null},"y2":{"field":"b"}}},
{"data":{"values":[{"t":"[km s"}]},"mark":{"type":"text","align":"left","baseline":"alphabetic","font":"DejaVu Sans","fontSize":35,"color":"#262626"},"encoding":{"text":{"field":"t"},"x":{"datum":-0.924,"type":"quantitative","scale":{"domain":[-6.229,8.057],"nice":false,"zero":false},"axis":null},"y":{"datum":58.7,"type":"quantitative","scale":{"domain":[0,54.1],"reverse":true,"nice":false},"axis":null}}},
{"data":{"values":[{"t":"]"}]},"mark":{"type":"text","align":"left","baseline":"alphabetic","font":"DejaVu Sans","fontSize":35,"color":"#262626"},"encoding":{"text":{"field":"t"},"x":{"datum":2.017,"type":"quantitative","scale":{"domain":[-6.229,8.057],"nice":false,"zero":false},"axis":null},"y":{"datum":58.7,"type":"quantitative","scale":{"domain":[0,54.1],"reverse":true,"nice":false},"axis":null}}},
{"data":{"values":[{"t":"−1"}]},"mark":{"type":"text","align":"left","baseline":"alphabetic","font":"DejaVu Sans","fontSize":22,"color":"#262626"},"encoding":{"text":{"field":"t"},"x":{"datum":1.218,"type":"quantitative","scale":{"domain":[-6.229,8.057],"nice":false,"zero":false},"axis":null},"y":{"datum":44.4,"type":"quantitative","scale":{"domain":[0,54.1],"reverse":true,"nice":false},"axis":null}}},
{"data":{"values":[{"t":"⟨"}]},"mark":{"type":"text","align":"left","baseline":"alphabetic","font":"DejaVu Sans","fontSize":30,"color":"#262626"},"encoding":{"text":{"field":"t"},"x":{"datum":-2.32,"type":"quantitative","scale":{"domain":[-6.229,8.057],"nice":false,"zero":false},"axis":null},"y":{"datum":60,"type":"quantitative","scale":{"domain":[0,54.1],"reverse":true,"nice":false},"axis":null}}},
{"data":{"values":[{"t":"⟩"}]},"mark":{"type":"text","align":"left","baseline":"alphabetic","font":"DejaVu Sans","fontSize":30,"color":"#262626"},"encoding":{"text":{"field":"t"},"x":{"datum":-1.47,"type":"quantitative","scale":{"domain":[-6.229,8.057],"nice":false,"zero":false},"axis":null},"y":{"datum":60,"type":"quantitative","scale":{"domain":[0,54.1],"reverse":true,"nice":false},"axis":null}}},
{"data":{"values":[{"t":"v"}]},"mark":{"type":"text","align":"left","baseline":"alphabetic","font":"Liberation Serif","fontStyle":"italic","fontSize":36,"color":"#262626"},"encoding":{"text":{"field":"t"},"x":{"datum":-2.038,"type":"quantitative","scale":{"domain":[-6.229,8.057],"nice":false,"zero":false},"axis":null},"y":{"datum":58.7,"type":"quantitative","scale":{"domain":[0,54.1],"reverse":true,"nice":false},"axis":null}}},
{"data":{"values":[{"t":"z"}]},"mark":{"type":"text","align":"left","baseline":"alphabetic","font":"Liberation Serif","fontStyle":"italic","fontSize":25,"color":"#262626"},"encoding":{"text":{"field":"t"},"x":{"datum":-1.68,"type":"quantitative","scale":{"domain":[-6.229,8.057],"nice":false,"zero":false},"axis":null},"y":{"datum":63.7,"type":"quantitative","scale":{"domain":[0,54.1],"reverse":true,"nice":false},"axis":null}}}
]},
{"width":680,"height":315.4,"resolve":{"axis":{"x":"independent","y":"independent"}},"layer":[
{"data":{"name":"p1"},"transform":[{"calculate":"max(datum.phi-10,-170)","as":"phi0"},{"calculate":"min(datum.phi+10,170)","as":"phi1"},{"calculate":"datum.z-0.13333","as":"z0"},{"calculate":"datum.z+0.13333","as":"z1"}],"mark":{"type":"rect"},"encoding":{"x":{"field":"phi0","type":"quantitative","scale":{"domain":[-170,170],"nice":false,"zero":false},"axis":{"orient":"bottom","values":[-170,-165,-160,-155,-150,-145,-140,-135,-130,-125,-120,-115,-110,-105,-100,-95,-90,-85,-80,-75,-70,-65,-60,-55,-50,-45,-40,-35,-30,-25,-20,-15,-10,-5,0,5,10,15,20,25,30,35,40,45,50,55,60,65,70,75,80,85,90,95,100,105,110,115,120,125,130,135,140,145,150,155,160,165,170],"labels":false,"tickSize":{"condition":{"test":"datum.value%50==0","value":-4.5},"value":-2.5}}},"x2":{"field":"phi1"},"y":{"field":"z0","type":"quantitative","scale":{"domain":[-1.2,1.2],"nice":false,"zero":false},"axis":{"orient":"left","values":[-1.2,-1.1,-1,-0.9,-0.8,-0.7,-0.6,-0.5,-0.4,-0.3,-0.2,-0.1,0,0.1,0.2,0.3,0.4,0.5,0.6,0.7,0.8,0.9,1,1.1,1.2],"labelExpr":"abs(datum.value*2-round(datum.value*2))<0.01?format(datum.value,'.1f'):''","labelFont":"DejaVu Sans","labelFontSize":22.5,"labelOverlap":false,"labelPadding":0.5,"tickSize":{"condition":{"test":"abs(datum.value*2-round(datum.value*2))<0.01","value":-4.5},"value":-2.5}}},"y2":{"field":"z1"},"color":{"field":"vz","type":"quantitative","legend":null,"scale":{"type":"threshold","domain":[-4,-3,-2,-1,0,1,2,3,4],"range":["#313695","#4a7ab7","#7eb6d6","#bbe0ec","#eef7df","#feeea2","#fdbe70","#f67f4b","#da362a","#a50026"]}}}},
{"data":{"name":"contours"},"mark":{"type":"line","color":"#111","strokeWidth":1,"opacity":0.9,"interpolate":"linear"},"encoding":{"order":{"value":null},"detail":{"field":"c"},"x":{"field":"phi","type":"quantitative","scale":{"domain":[-170,170],"nice":false,"zero":false},"axis":{"orient":"top","values":[-170,-165,-160,-155,-150,-145,-140,-135,-130,-125,-120,-115,-110,-105,-100,-95,-90,-85,-80,-75,-70,-65,-60,-55,-50,-45,-40,-35,-30,-25,-20,-15,-10,-5,0,5,10,15,20,25,30,35,40,45,50,55,60,65,70,75,80,85,90,95,100,105,110,115,120,125,130,135,140,145,150,155,160,165,170],"labels":false,"tickSize":{"condition":{"test":"datum.value%50==0","value":-4.5},"value":-2.5}}},"y":{"field":"z","type":"quantitative","scale":{"domain":[-1.2,1.2],"nice":false,"zero":false},"axis":{"orient":"right","values":[-1.2,-1.1,-1,-0.9,-0.8,-0.7,-0.6,-0.5,-0.4,-0.3,-0.2,-0.1,0,0.1,0.2,0.3,0.4,0.5,0.6,0.7,0.8,0.9,1,1.1,1.2],"labels":false,"tickSize":{"condition":{"test":"abs(datum.value*2-round(datum.value*2))<0.01","value":-4.5},"value":-2.5}}}}},
{"data":{"values":[{"phi":-110.25,"z":0.035}]},"mark":{"type":"point","filled":true,"color":"#000","size":5,"opacity":1},"encoding":{"x":{"field":"phi","type":"quantitative","scale":{"domain":[-170,170],"nice":false,"zero":false},"axis":null},"y":{"field":"z","type":"quantitative","scale":{"domain":[-1.2,1.2],"nice":false,"zero":false},"axis":null}}},
{"data":{"values":[{"t":"[0-4] Gyr"}]},"mark":{"type":"rect","color":"#1a1a1a","cornerRadius":5},"encoding":{"x":{"datum":-153.75,"type":"quantitative","scale":{"domain":[-170,170],"nice":false,"zero":false},"axis":null},"x2":{"datum":-92.75},"y":{"datum":1.268,"type":"quantitative","scale":{"domain":[-1.2,1.2],"nice":false,"zero":false},"axis":null},"y2":{"datum":1.554}}},
{"data":{"values":[{"t":"[0-4] Gyr"}]},"mark":{"type":"text","color":"white","font":"DejaVu Sans","fontSize":23,"align":"center","baseline":"middle"},"encoding":{"text":{"field":"t"},"x":{"datum":-123.25,"type":"quantitative","scale":{"domain":[-170,170],"nice":false,"zero":false},"axis":null},"y":{"datum":1.409,"type":"quantitative","scale":{"domain":[-1.2,1.2],"nice":false,"zero":false},"axis":null}}},
{"data":{"values":[{"t":"[kpc]"}]},"mark":{"type":"text","color":"#111","font":"DejaVu Sans","fontSize":29,"angle":270,"align":"center","baseline":"alphabetic"},"encoding":{"text":{"field":"t"},"x":{"datum":-204.25,"type":"quantitative","scale":{"domain":[-170,170],"nice":false,"zero":false},"axis":null},"y":{"datum":0.093,"type":"quantitative","scale":{"domain":[-1.2,1.2],"nice":false,"zero":false},"axis":null}}},
{"data":{"values":[{"t":"z"}]},"mark":{"type":"text","color":"#111","font":"Liberation Serif","fontStyle":"italic","fontSize":30,"angle":270,"align":"center","baseline":"alphabetic"},"encoding":{"text":{"field":"t"},"x":{"datum":-204.25,"type":"quantitative","scale":{"domain":[-170,170],"nice":false,"zero":false},"axis":null},"y":{"datum":-0.336,"type":"quantitative","scale":{"domain":[-1.2,1.2],"nice":false,"zero":false},"axis":null}}}
]},
{"width":680,"height":315.4,"resolve":{"axis":{"x":"independent","y":"independent"}},"layer":[
{"data":{"name":"p2"},"transform":[{"calculate":"max(datum.phi-10,-170)","as":"phi0"},{"calculate":"min(datum.phi+10,170)","as":"phi1"},{"calculate":"datum.z-0.13333","as":"z0"},{"calculate":"datum.z+0.13333","as":"z1"}],"mark":{"type":"rect"},"encoding":{"x":{"field":"phi0","type":"quantitative","scale":{"domain":[-170,170],"nice":false,"zero":false},"axis":{"orient":"bottom","values":[-170,-165,-160,-155,-150,-145,-140,-135,-130,-125,-120,-115,-110,-105,-100,-95,-90,-85,-80,-75,-70,-65,-60,-55,-50,-45,-40,-35,-30,-25,-20,-15,-10,-5,0,5,10,15,20,25,30,35,40,45,50,55,60,65,70,75,80,85,90,95,100,105,110,115,120,125,130,135,140,145,150,155,160,165,170],"labels":false,"tickSize":{"condition":{"test":"datum.value%50==0","value":-4.5},"value":-2.5}}},"x2":{"field":"phi1"},"y":{"field":"z0","type":"quantitative","scale":{"domain":[-1.2,1.2],"nice":false,"zero":false},"axis":{"orient":"left","values":[-1.2,-1.1,-1,-0.9,-0.8,-0.7,-0.6,-0.5,-0.4,-0.3,-0.2,-0.1,0,0.1,0.2,0.3,0.4,0.5,0.6,0.7,0.8,0.9,1,1.1,1.2],"labelExpr":"abs(datum.value*2-round(datum.value*2))<0.01?format(datum.value,'.1f'):''","labelFont":"DejaVu Sans","labelFontSize":22.5,"labelOverlap":false,"labelPadding":0.5,"tickSize":{"condition":{"test":"abs(datum.value*2-round(datum.value*2))<0.01","value":-4.5},"value":-2.5}}},"y2":{"field":"z1"},"color":{"field":"vz","type":"quantitative","legend":null,"scale":{"type":"threshold","domain":[-4,-3,-2,-1,0,1,2,3,4],"range":["#313695","#4a7ab7","#7eb6d6","#bbe0ec","#eef7df","#feeea2","#fdbe70","#f67f4b","#da362a","#a50026"]}}}},
{"data":{"name":"contours"},"mark":{"type":"line","color":"#111","strokeWidth":1,"opacity":0.9,"interpolate":"linear"},"encoding":{"order":{"value":null},"detail":{"field":"c"},"x":{"field":"phi","type":"quantitative","scale":{"domain":[-170,170],"nice":false,"zero":false},"axis":{"orient":"top","values":[-170,-165,-160,-155,-150,-145,-140,-135,-130,-125,-120,-115,-110,-105,-100,-95,-90,-85,-80,-75,-70,-65,-60,-55,-50,-45,-40,-35,-30,-25,-20,-15,-10,-5,0,5,10,15,20,25,30,35,40,45,50,55,60,65,70,75,80,85,90,95,100,105,110,115,120,125,130,135,140,145,150,155,160,165,170],"labels":false,"tickSize":{"condition":{"test":"datum.value%50==0","value":-4.5},"value":-2.5}}},"y":{"field":"z","type":"quantitative","scale":{"domain":[-1.2,1.2],"nice":false,"zero":false},"axis":{"orient":"right","values":[-1.2,-1.1,-1,-0.9,-0.8,-0.7,-0.6,-0.5,-0.4,-0.3,-0.2,-0.1,0,0.1,0.2,0.3,0.4,0.5,0.6,0.7,0.8,0.9,1,1.1,1.2],"labels":false,"tickSize":{"condition":{"test":"abs(datum.value*2-round(datum.value*2))<0.01","value":-4.5},"value":-2.5}}}}},
{"data":{"values":[{"phi":-110.25,"z":0.035}]},"mark":{"type":"point","filled":true,"color":"#000","size":5,"opacity":1},"encoding":{"x":{"field":"phi","type":"quantitative","scale":{"domain":[-170,170],"nice":false,"zero":false},"axis":null},"y":{"field":"z","type":"quantitative","scale":{"domain":[-1.2,1.2],"nice":false,"zero":false},"axis":null}}},
{"data":{"values":[{"t":"[4-8] Gyr"}]},"mark":{"type":"rect","color":"#1a1a1a","cornerRadius":5},"encoding":{"x":{"datum":-153.75,"type":"quantitative","scale":{"domain":[-170,170],"nice":false,"zero":false},"axis":null},"x2":{"datum":-92.75},"y":{"datum":1.268,"type":"quantitative","scale":{"domain":[-1.2,1.2],"nice":false,"zero":false},"axis":null},"y2":{"datum":1.554}}},
{"data":{"values":[{"t":"[4-8] Gyr"}]},"mark":{"type":"text","color":"white","font":"DejaVu Sans","fontSize":23,"align":"center","baseline":"middle"},"encoding":{"text":{"field":"t"},"x":{"datum":-123.25,"type":"quantitative","scale":{"domain":[-170,170],"nice":false,"zero":false},"axis":null},"y":{"datum":1.409,"type":"quantitative","scale":{"domain":[-1.2,1.2],"nice":false,"zero":false},"axis":null}}},
{"data":{"values":[{"t":"[kpc]"}]},"mark":{"type":"text","color":"#111","font":"DejaVu Sans","fontSize":29,"angle":270,"align":"center","baseline":"alphabetic"},"encoding":{"text":{"field":"t"},"x":{"datum":-204.25,"type":"quantitative","scale":{"domain":[-170,170],"nice":false,"zero":false},"axis":null},"y":{"datum":0.093,"type":"quantitative","scale":{"domain":[-1.2,1.2],"nice":false,"zero":false},"axis":null}}},
{"data":{"values":[{"t":"z"}]},"mark":{"type":"text","color":"#111","font":"Liberation Serif","fontStyle":"italic","fontSize":30,"angle":270,"align":"center","baseline":"alphabetic"},"encoding":{"text":{"field":"t"},"x":{"datum":-204.25,"type":"quantitative","scale":{"domain":[-170,170],"nice":false,"zero":false},"axis":null},"y":{"datum":-0.336,"type":"quantitative","scale":{"domain":[-1.2,1.2],"nice":false,"zero":false},"axis":null}}}
]},
{"width":680,"height":315.4,"resolve":{"axis":{"x":"independent","y":"independent"}},"layer":[
{"data":{"name":"p3"},"transform":[{"calculate":"max(datum.phi-10,-170)","as":"phi0"},{"calculate":"min(datum.phi+10,170)","as":"phi1"},{"calculate":"datum.z-0.13333","as":"z0"},{"calculate":"datum.z+0.13333","as":"z1"}],"mark":{"type":"rect"},"encoding":{"x":{"field":"phi0","type":"quantitative","scale":{"domain":[-170,170],"nice":false,"zero":false},"axis":{"orient":"bottom","values":[-170,-165,-160,-155,-150,-145,-140,-135,-130,-125,-120,-115,-110,-105,-100,-95,-90,-85,-80,-75,-70,-65,-60,-55,-50,-45,-40,-35,-30,-25,-20,-15,-10,-5,0,5,10,15,20,25,30,35,40,45,50,55,60,65,70,75,80,85,90,95,100,105,110,115,120,125,130,135,140,145,150,155,160,165,170],"labelExpr":"datum.value%50==0?format(datum.value,'d'):''","labelFont":"DejaVu Sans","labelFontSize":22.5,"labelPadding":3,"labelFlush":false,"labelOverlap":false,"tickSize":{"condition":{"test":"datum.value%50==0","value":-4.5},"value":-2.5}}},"x2":{"field":"phi1"},"y":{"field":"z0","type":"quantitative","scale":{"domain":[-1.2,1.2],"nice":false,"zero":false},"axis":{"orient":"left","values":[-1.2,-1.1,-1,-0.9,-0.8,-0.7,-0.6,-0.5,-0.4,-0.3,-0.2,-0.1,0,0.1,0.2,0.3,0.4,0.5,0.6,0.7,0.8,0.9,1,1.1,1.2],"labelExpr":"abs(datum.value*2-round(datum.value*2))<0.01?format(datum.value,'.1f'):''","labelFont":"DejaVu Sans","labelFontSize":22.5,"labelOverlap":false,"labelPadding":0.5,"tickSize":{"condition":{"test":"abs(datum.value*2-round(datum.value*2))<0.01","value":-4.5},"value":-2.5}}},"y2":{"field":"z1"},"color":{"field":"vz","type":"quantitative","legend":null,"scale":{"type":"threshold","domain":[-4,-3,-2,-1,0,1,2,3,4],"range":["#313695","#4a7ab7","#7eb6d6","#bbe0ec","#eef7df","#feeea2","#fdbe70","#f67f4b","#da362a","#a50026"]}}}},
{"data":{"name":"contours"},"mark":{"type":"line","color":"#111","strokeWidth":1,"opacity":0.9,"interpolate":"linear"},"encoding":{"order":{"value":null},"detail":{"field":"c"},"x":{"field":"phi","type":"quantitative","scale":{"domain":[-170,170],"nice":false,"zero":false},"axis":{"orient":"top","values":[-170,-165,-160,-155,-150,-145,-140,-135,-130,-125,-120,-115,-110,-105,-100,-95,-90,-85,-80,-75,-70,-65,-60,-55,-50,-45,-40,-35,-30,-25,-20,-15,-10,-5,0,5,10,15,20,25,30,35,40,45,50,55,60,65,70,75,80,85,90,95,100,105,110,115,120,125,130,135,140,145,150,155,160,165,170],"labels":false,"tickSize":{"condition":{"test":"datum.value%50==0","value":-4.5},"value":-2.5}}},"y":{"field":"z","type":"quantitative","scale":{"domain":[-1.2,1.2],"nice":false,"zero":false},"axis":{"orient":"right","values":[-1.2,-1.1,-1,-0.9,-0.8,-0.7,-0.6,-0.5,-0.4,-0.3,-0.2,-0.1,0,0.1,0.2,0.3,0.4,0.5,0.6,0.7,0.8,0.9,1,1.1,1.2],"labels":false,"tickSize":{"condition":{"test":"abs(datum.value*2-round(datum.value*2))<0.01","value":-4.5},"value":-2.5}}}}},
{"data":{"values":[{"phi":-110.25,"z":0.035}]},"mark":{"type":"point","filled":true,"color":"#000","size":5,"opacity":1},"encoding":{"x":{"field":"phi","type":"quantitative","scale":{"domain":[-170,170],"nice":false,"zero":false},"axis":null},"y":{"field":"z","type":"quantitative","scale":{"domain":[-1.2,1.2],"nice":false,"zero":false},"axis":null}}},
{"data":{"values":[{"t":"[8-12] Gyr"}]},"mark":{"type":"rect","color":"#1a1a1a","cornerRadius":5},"encoding":{"x":{"datum":-153.75,"type":"quantitative","scale":{"domain":[-170,170],"nice":false,"zero":false},"axis":null},"x2":{"datum":-85.25},"y":{"datum":1.268,"type":"quantitative","scale":{"domain":[-1.2,1.2],"nice":false,"zero":false},"axis":null},"y2":{"datum":1.554}}},
{"data":{"values":[{"t":"[8-12] Gyr"}]},"mark":{"type":"text","color":"white","font":"DejaVu Sans","fontSize":23,"align":"center","baseline":"middle"},"encoding":{"text":{"field":"t"},"x":{"datum":-119.5,"type":"quantitative","scale":{"domain":[-170,170],"nice":false,"zero":false},"axis":null},"y":{"datum":1.409,"type":"quantitative","scale":{"domain":[-1.2,1.2],"nice":false,"zero":false},"axis":null}}},
{"data":{"values":[{"t":"[kpc]"}]},"mark":{"type":"text","color":"#111","font":"DejaVu Sans","fontSize":29,"angle":270,"align":"center","baseline":"alphabetic"},"encoding":{"text":{"field":"t"},"x":{"datum":-204.25,"type":"quantitative","scale":{"domain":[-170,170],"nice":false,"zero":false},"axis":null},"y":{"datum":0.093,"type":"quantitative","scale":{"domain":[-1.2,1.2],"nice":false,"zero":false},"axis":null}}},
{"data":{"values":[{"t":"z"}]},"mark":{"type":"text","color":"#111","font":"Liberation Serif","fontStyle":"italic","fontSize":30,"angle":270,"align":"center","baseline":"alphabetic"},"encoding":{"text":{"field":"t"},"x":{"datum":-204.25,"type":"quantitative","scale":{"domain":[-170,170],"nice":false,"zero":false},"axis":null},"y":{"datum":-0.336,"type":"quantitative","scale":{"domain":[-1.2,1.2],"nice":false,"zero":false},"axis":null}}},
{"data":{"values":[{"t":"[deg.]"}]},"mark":{"type":"text","color":"#111","font":"DejaVu Sans","fontSize":30,"align":"center","baseline":"alphabetic"},"encoding":{"text":{"field":"t"},"x":{"datum":6.75,"type":"quantitative","scale":{"domain":[-170,170],"nice":false,"zero":false},"axis":null},"y":{"datum":-1.58,"type":"quantitative","scale":{"domain":[-1.2,1.2],"nice":false,"zero":false},"axis":null}}},
{"data":{"values":[{"t":"ϕ"}]},"mark":{"type":"text","color":"#111","font":"Liberation Serif","fontStyle":"italic","fontSize":36,"align":"center","baseline":"alphabetic"},"encoding":{"text":{"field":"t"},"x":{"datum":-25.75,"type":"quantitative","scale":{"domain":[-170,170],"nice":false,"zero":false},"axis":null},"y":{"datum":-1.58,"type":"quantitative","scale":{"domain":[-1.2,1.2],"nice":false,"zero":false},"axis":null}}}
]}
]}
